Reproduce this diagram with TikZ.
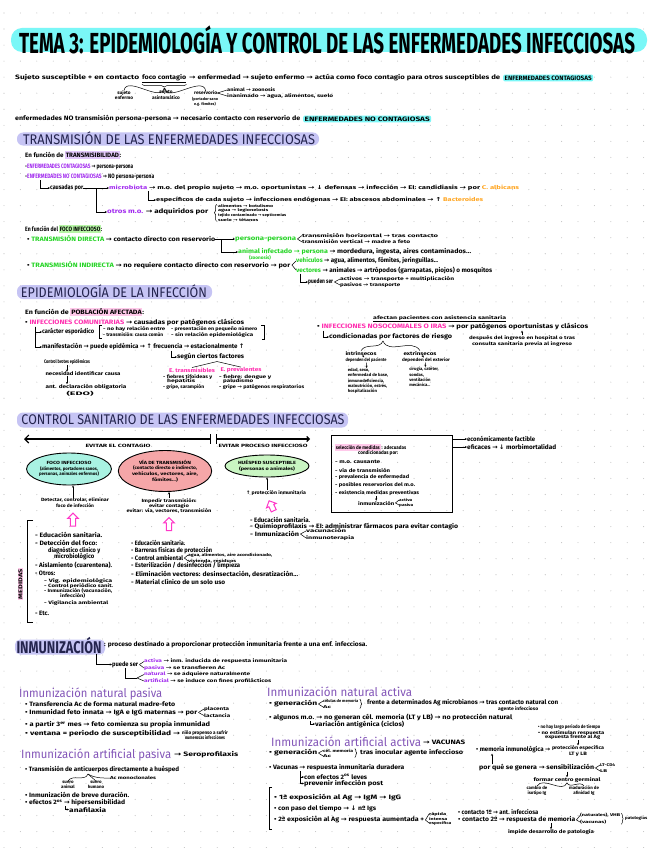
\documentclass[tikz,border=0pt]{standalone}
\usepackage{fontspec}
\setmainfont{Fira Sans}
\newfontfamily\dv{DejaVu Sans}
\usepackage{graphicx}
\usetikzlibrary{arrows.meta,shapes.geometric,shapes.arrows,decorations.pathreplacing,calc}
\definecolor{cyanhl}{HTML}{7AF7F7}
\definecolor{lav}{HTML}{C6C4F4}
\definecolor{navy}{HTML}{24244E}
\definecolor{purp}{HTML}{A22BEF}
\definecolor{pnk}{HTML}{FF2FB0}
\definecolor{grn}{HTML}{24D424}
\definecolor{grnhl}{HTML}{B7F5A6}
\definecolor{pnkhl}{HTML}{FFC9EA}
\definecolor{lavhl}{HTML}{E2C9FA}
\definecolor{orng}{HTML}{FFA51F}
\definecolor{subp}{HTML}{8355B8}
\definecolor{tealf}{HTML}{A9F2E2}
\definecolor{pinkf}{HTML}{F5A6A8}
\definecolor{greenf}{HTML}{C9F5C2}
\definecolor{dotc}{HTML}{C4C4C4}
\definecolor{arrp}{HTML}{FF38C8}
\newsavebox\fwbox
\newcommand\fw[2]{\sbox\fwbox{#2}\pgfmathsetmacro\fwr{#1/\the\wd\fwbox}\scalebox{\fwr}[1]{\usebox\fwbox}}
\newcommand\sz[1]{\fontsize{#1}{#1}\selectfont}
\newcommand\myR{{\dv\char"2192}}
\newcommand\myD{{\dv\char"2193}}
\newcommand\myU{{\dv\char"2191}}
\newcommand\hlt[2]{{\setlength{\fboxsep}{0.7pt}\colorbox{#1}{\vphantom{Áj}#2}}}
\newcommand\TX[6][]{\node[tx,#1] (#2) at (#3,#4) {\fw{#5}{#6}};}
\tikzset{
 tx/.style={anchor=west,inner sep=0pt,font=\sz{6.3}\bfseries},
 sm/.style={font=\sz{4.7}\bfseries},
 ctr/.style={anchor=center},
 sub/.style={font=\sz{12},text=subp},
 hk/.style={-{Stealth[length=2.2pt,width=2pt]},line width=0.5pt},
 ln/.style={line width=0.5pt},
 hlb/.style={fill=#1,rounded corners=2pt,inner xsep=1.5pt,inner ysep=1.2pt},
 ell/.style={ellipse,draw,line width=0.9pt,inner sep=0pt,align=center,font=\fontsize{4.5}{5.6}\selectfont\bfseries},
 parr/.style={single arrow,draw=arrp,line width=1pt,fill=white,minimum height=13pt,single arrow head extend=2.6pt,inner sep=2.2pt},
 hbg/.style={fill=lav,rounded corners=6pt,inner sep=0pt},
}
\begin{document}
\begin{tikzpicture}[x=1pt,y=-1pt]
\useasboundingbox (0,0) rectangle (656,848);
\fill[white] (0,0) rectangle (656,848);
\foreach \i in {0,...,39}{\foreach \j in {0,...,52}{\fill[dotc] (4+\i*16.4,13+\j*16.05) circle (0.55);}}
% ---------- title
\node[fill=cyanhl,rounded corners=11pt,minimum width=636pt,minimum height=24pt,inner sep=0] (tbar) at (329,40) {};
\node[inner sep=0] (title) at (327,40) {\fw{616}{\sz{29}\bfseries TEMA 3: EPIDEMIOLOGÍA Y CONTROL DE LAS ENFERMEDADES INFECCIOSAS}};
% ---------- intro
\TX{l1a}{15}{78}{124}{Sujeto susceptible + en contacto}
\TX{l1b}{142}{78}{44}{foco contagio}
\draw[ln] ([yshift=-1.2]l1b.south west) -- ([yshift=-1.2]l1b.south east);
\TX{l1c}{189}{78}{311}{\myR{} enfermedad \myR{} sujeto enfermo \myR{} actúa como foco contagio para otros susceptibles de}
\TX[hlb=cyanhl]{l1d}{503}{78}{87}{ENFERMEDADES CONTAGIOSAS}
\draw[ln,decorate,decoration={brace,amplitude=2.5pt,mirror}] ([yshift=-3]l1b.south west) -- ([yshift=-3]l1b.south east);
\coordinate (bt) at ([yshift=-6.5]l1b.south);
\node[sm,ctr,inner sep=0,align=center] (s1) at (124,95) {sujeto\\enfermo};
\node[sm,ctr,inner sep=0,align=center] (s2) at (166,95) {sujeto\\asintomático};
\TX[sm]{s3}{194}{93}{23}{reservorio}
\node[inner sep=0,align=center,font=\sz{3.8}\bfseries] (s3b) at (205,102) {(portador sano\\e.g. fómites)};
\TX[sm]{s4a}{227}{90}{48}{animal \myR{} zoonosis}
\TX[sm]{s4b}{227}{96}{106}{inanimado \myR{} agua, alimentos, suelo}
\draw[ln] (bt) to[out=-100,in=80] (s1.north);
\draw[ln] (bt) -- (s2.north);
\draw[ln] (bt) to[out=-80,in=100] (s3.north);
\draw[ln] (s3.east) -- (s4a.west); \draw[ln] (s3.east) -- (s4b.west);
\TX{l2a}{15}{119}{285}{enfermedades NO transmisión persona-persona \myR{} necesario contacto con reservorio de}
\TX[hlb=cyanhl]{l2b}{303}{119}{125}{ENFERMEDADES NO CONTAGIOSAS}
% ---------- heading 1
\node[hbg,minimum width=302pt,minimum height=13pt] (h1bg) at (168,139) {};
\node[inner sep=0] (h1) at (169,138.5) {\fw{292}{\sz{14}\color{navy}TRANSMISIÓN DE LAS ENFERMEDADES INFECCIOSAS}};
% ---------- transmisibilidad
\TX{t1}{25}{155}{96}{En función de \hlt{lavhl}{TRANSMISIBILIDAD}:}
\TX{t2}{25}{167}{108}{-\textcolor{purp}{ENFERMEDADES CONTAGIOSAS} \myR{} persona-persona}
\TX{t3}{25}{177}{129}{-\textcolor{purp}{ENFERMEDADES NO CONTAGIOSAS} \myR{} NO persona-persona}
\TX{t4}{50}{188}{33}{causadas por}
\draw[hk] ([xshift=15]t3.south west) |- (t4.west);
\TX[font=\sz{5.4}\bfseries]{t5}{109}{188}{410}{\textcolor{purp}{microbiota} \myR{} m.o. del propio sujeto \myR{} m.o. oportunistas \myR{} \myD{} defensas \myR{} infección \myR{} EI: candidiasis \myR{} por \textcolor{orng}{C. albicans}}
\TX[font=\sz{5.4}\bfseries]{t6}{156}{200}{327}{específicos de cada sujeto \myR{} infecciones endógenas \myR{} EI: abscesos abdominales \myR{} \myU{} \textcolor{orng}{Bacteroides}}
\TX{t7}{107}{212}{101}{\textcolor{purp}{otros m.o.} \myR{} adquiridos por}
\coordinate (j1) at ([xshift=13]t4.east);
\draw[ln] (t4.east) -- (j1); \draw[hk] (j1) -- (t5.west); \draw[hk] (j1) |- (t7.west);
\draw[hk] ([xshift=39]t5.south west) |- (t6.west);
\TX[font=\sz{3.8}\bfseries]{t8a}{218}{206}{55}{alimentos \myR{} botulismo}
\TX[font=\sz{3.8}\bfseries]{t8b}{218}{210.5}{50}{agua \myR{} legionelosis}
\TX[font=\sz{3.8}\bfseries]{t8c}{218}{215}{68}{tejido contaminado \myR{} septicemias}
\TX[font=\sz{3.8}\bfseries]{t8d}{218}{219.5}{40}{suelo \myR{} tétanos}
\draw[ln,decorate,decoration={brace,amplitude=2pt}] ([xshift=-1.5]t8d.south west) -- ([xshift=-1.5]t8a.north west);
% ---------- foco infeccioso
\TX{f1}{25}{229}{77}{En función del \hlt{grnhl}{FOCO INFECCIOSO}:}
\TX{f2}{27}{239}{188}{• \textcolor{grn}{TRANSMISIÓN DIRECTA} \myR{} contacto directo con reservorio}
\TX{f3}{235}{239}{61}{\textcolor{grn}{persona-persona}}
\TX[sm]{f4a}{302}{235.5}{136}{transmisión horizontal \myR{} tras contacto}
\TX[sm]{f4b}{302}{242}{108}{transmisión vertical \myR{} madre a feto}
\TX{f5}{238}{252}{233}{\textcolor{grn}{animal infectado \myR{} persona} \myR{} mordedura, ingesta, aires contaminados...}
\node[sm,ctr,inner sep=0,text=grn] (f5b) at (260,257.5) {(zoonosis)};
\coordinate (j2) at ([xshift=6]f2.east);
\draw[ln] (f2.east) -- (j2); \draw[hk] (j2) -- (f3.west); \draw[hk] (j2) |- (f5.west);
\draw[ln] ([xshift=1]f3.east) -- (f4a.west); \draw[ln] ([xshift=1]f3.east) -- (f4b.west);
\TX{f6}{27}{265}{263}{• \textcolor{grn}{TRANSMISIÓN INDIRECTA} \myR{} no requiere contacto directo con reservorio \myR{} por}
\TX{f7a}{296}{261}{142}{\textcolor{grn}{vehículos} \myR{} agua, alimentos, fómites, jeringuillas...}
\TX{f7b}{296}{270}{196}{\textcolor{grn}{vectores} \myR{} animales \myR{} artrópodos (garrapatas, piojos) o mosquitos}
\draw[ln] ([xshift=1.5]f6.east) -- (f7a.west); \draw[ln] ([xshift=1.5]f6.east) -- (f7b.west);
\TX{f8}{308}{282}{25}{pueden ser}
\draw[hk] ([xshift=4]f7b.south west) |- (f8.west);
\TX[sm]{f9a}{340}{279}{114}{activos \myR{} transporte + multiplicación}
\TX[sm]{f9b}{340}{285}{60}{pasivos \myR{} transporte}
\draw[ln] ([xshift=1]f8.east) -- (f9a.west); \draw[ln] ([xshift=1]f8.east) -- (f9b.west);
% ---------- heading 2
\node[hbg,minimum width=195pt,minimum height=14pt] (h2bg) at (114.5,292) {};
\node[inner sep=0] (h2) at (114,291.5) {\fw{186}{\sz{14}\color{navy}EPIDEMIOLOGÍA DE LA INFECCIÓN}};
% ---------- poblacion
\TX{p1}{25}{312}{119}{En función de \hlt{pnkhl}{POBLACIÓN AFECTADA}:}
\TX{p2}{25}{323}{219}{• \textcolor{pnk}{INFECCIONES COMUNITARIAS} \myR{} causadas por patógenos clásicos}
\TX{p3}{42}{332}{52}{carácter esporádico}
\TX[sm]{p4a}{103}{329}{62}{- no hay relación entre}
\TX[sm]{p4b}{103}{335}{60}{- transmisión: causa común}
\TX[sm]{p4c}{171}{329}{86}{- presentación en pequeño número}
\TX[sm]{p4d}{171}{335}{82}{- sin relación epidemiológica}
\draw[ln] ([xshift=-1.5,yshift=1.5]p4a.north west) -- ++(-2.5,0) |- ([xshift=-1.5,yshift=-1.5]p4b.south west);
\draw[ln] ([xshift=4,yshift=1.5]p4c.north east) -- ++(2.5,0) |- ([xshift=9,yshift=-1.5]p4d.south east);
\TX{p5}{42}{347}{202}{manifestación \myR{} puede epidémica \myR{} \myU{} frecuencia \myR{} estacionalmente \myU{}}
\draw[hk] ([xshift=10]p2.south west) |- (p3.west);
\draw[hk] ([xshift=10]p2.south west) |- (p5.west);
\TX{p6}{177}{357}{67}{según ciertos factores}
\coordinate (p6h) at ([xshift=129]p5.south west);
\draw[hk] (p6h) |- (p6.west);
\node[inner sep=0,font=\sz{5.5}\bfseries,text=pnk] (p7a) at (192,370) {\fw{46}{E. transmisibles}};
\node[inner sep=0,font=\sz{5.5}\bfseries,text=pnk] (p7b) at (241,370) {\fw{41}{E. prevalentes}};
\coordinate (p6b) at ([xshift=40,yshift=-1]p6.south west);
\draw[ln] (p6b) -- (p7a.north); \draw[ln] (p6b) -- (p7b.north);
\TX[sm]{p8a}{163}{377}{49}{- fiebres tifoideas y}
\TX[sm]{p8b}{167}{381.5}{28}{hepatitis}
\TX[sm]{p8c}{163}{387.5}{41}{- gripe, sarampión}
\TX[sm]{p9a}{219}{377}{52}{- fiebre: dengue y}
\TX[sm]{p9b}{223}{381.5}{30}{paludismo}
\TX[sm]{p9c}{219}{387.5}{85}{- gripe \myR{} patógenos respiratorios}
\node[inner sep=0,font=\sz{5}\bfseries] (q1) at (67,362) {\fw{46}{Control brotes epidémicos}};
\node[inner sep=0,font=\sz{5}\bfseries] (q2) at (83,374) {\fw{75}{necesidad identificar causa}};
\node[inner sep=0,font=\sz{5}\bfseries] (q3) at (86,387) {\fw{81}{ant. declaración obligatoria}};
\node[inner sep=0,font=\sz{5}\bfseries] (q4) at (80,393.5) {\fw{27}{(EDO)}};
\draw[hk] (q1.south) -- (q1.south |- q2.north);
\draw[hk] (q1.south |- q2.south) -- (q1.south |- q3.north);
% ---------- nosocomiales
\TX[sm]{n0}{373}{318}{133}{afectan pacientes con asistencia sanitaria}
\draw[ln] ([yshift=-0.8]n0.south west) -- ([yshift=-0.8]n0.south east);
\TX{n1}{317}{327}{271}{• \textcolor{pnk}{INFECCIONES NOSOCOMIALES O IRAS} \myR{} por patógenos oportunistas y clásicos}
\TX{n2}{329}{337}{123}{condicionadas por factores de riesgo}
\draw[hk] ([xshift=6]n1.south west) |- (n2.west);
\node[inner sep=0,align=center,font=\fontsize{4.6}{5.8}\selectfont\bfseries] (n3) at (522,341) {\fw{106}{después del ingreso en hospital o tras}\\\fw{100}{consulta sanitaria previa al ingreso}};
\draw[hk] (n3.north) -- (n3.north |- n1.south);
\node[inner sep=0,font=\sz{5}\bfseries] (n4a) at (361,353) {\fw{31}{intrínsecos}};
\node[inner sep=0,font=\sz{5}\bfseries] (n4b) at (420,353) {\fw{33}{extrínsecos}};
\coordinate (n2b) at ([xshift=54,yshift=-0.5]n2.south west);
\draw[ln] (n2b) to[out=-110,in=60] (n4a.north); \draw[ln] (n2b) to[out=-70,in=120] (n4b.north);
\node[inner sep=0,font=\sz{4.5}\bfseries] (n5a) at (366,360) {\fw{41}{dependen del paciente}};
\node[inner sep=0,font=\sz{4.5}\bfseries] (n5b) at (426,360) {\fw{48}{dependen del exterior}};
\node[anchor=north,inner sep=0,align=left,font=\fontsize{4.2}{5.4}\selectfont\bfseries] (n6a) at (368,368) {edad, sexo,\\enfermedad de base,\\inmunodeficiencia,\\malnutrición, estrés,\\hospitalización};
\node[anchor=north,inner sep=0,align=left,font=\fontsize{4.2}{5.4}\selectfont\bfseries] (n6b) at (424,367) {cirugía, catéter,\\sondas,\\ventilación\\mecánica...};
\draw[hk] (n4a) -- (n5a); \draw[hk] (n4b) -- (n5b);
\draw[hk] (n5a) -- (n6a); \draw[hk] (n5b) -- (n6b);
% ---------- heading 3
\node[hbg,minimum width=331pt,minimum height=15pt] (h3bg) at (182.5,420) {};
\node[inner sep=0] (h3) at (183,419.5) {\fw{323}{\sz{14}\color{navy}CONTROL SANITARIO DE LAS ENFERMEDADES INFECCIOSAS}};
% ---------- timeline
\coordinate (tA) at (24,439); \coordinate (tB) at (210.5,439);
\coordinate (tC) at (216.5,439); \coordinate (tD) at (310,439);
\draw[line width=1.1pt,-{Straight Barb[length=4pt,width=8pt]}] (tB) -- (tA);
\draw[line width=1.1pt,-{Straight Barb[length=2.5pt,width=5pt]}] (tC) -- (tD);
\draw[line width=0.9pt] ([yshift=5]tB) -- ([yshift=-5]tB);
\draw[line width=0.9pt] ([yshift=5]tC) -- ([yshift=-5]tC);
\node[inner sep=0,font=\sz{4.6}\bfseries] (ev1) at (118,446) {\fw{65}{EVITAR EL CONTAGIO}};
\node[inner sep=0,font=\sz{4.6}\bfseries] (ev2) at (263,446) {\fw{89}{EVITAR PROCESO INFECCIOSO}};
\node[ell,fill=tealf,minimum width=80pt,minimum height=32pt] (e1) at (69,469) {\fw{45}{FOCO INFECCIOSO}\\\fw{58}{(alimentos, portadores sanos,}\\\fw{60}{personas, animales enfermos)}};
\node[ell,fill=pinkf,minimum width=88pt,minimum height=41pt] (e2) at (165,471) {\fw{52}{VÍA DE TRANSMISIÓN}\\\fw{64}{(contacto directo o indirecto,}\\\fw{66}{vehículos, vectores, aire,}\\\fw{26}{fómites...)}};
\node[ell,fill=greenf,minimum width=84pt,minimum height=22pt] (e3) at (267,466) {\fw{58}{HUÉSPED SUSCEPTIBLE}\\\fw{56}{(personas o animales)}};
\node[inner sep=0,align=center,font=\fontsize{4.6}{5.6}\selectfont\bfseries] (d1) at (75,502.5) {\fw{68}{Detectar, controlar, eliminar}\\\fw{38}{foco de infección}};
\draw[hk] (d1.north -| e1.south) ++(4,0) -- ([xshift=4]e1.south);
\node[inner sep=0,align=center,font=\fontsize{4.6}{5.2}\selectfont\bfseries] (d2) at (169,506) {\fw{55}{Impedir transmisión:}\\\fw{40}{evitar contagio}\\\fw{85}{evitar: vía, vectores, transmisión}};
\draw[hk] ([xshift=4]d2.north -| e2.south) -- ([xshift=4]e2.south);
\node[inner sep=0,font=\sz{4.8}\bfseries] (d3) at (276,493) {\fw{60}{\myU{} protección inmunitaria}};
\draw[hk] (d3.north -| e3.south) -- (e3.south);
\node[parr,rotate=90] (pa1) at (73,521) {};
\node[parr,rotate=90] (pa2) at (169,525.5) {};
\node[parr,rotate=115,minimum height=11pt] (pa3) at (272,507) {};
% ---------- box
\node[draw,line width=1.1pt,minimum width=121pt,minimum height=77pt,anchor=north west,inner sep=0] (bx) at (331,435) {};
\TX[font=\sz{5}\bfseries]{b1}{335}{447.5}{71}{\hlt{pnkhl}{selección de medidas} : adecuadas}
\TX[font=\sz{5}\bfseries]{b2}{358}{453.5}{40}{condicionadas por:}
\TX[font=\sz{5}\bfseries]{b3}{335}{462}{45}{- m.o. causante}
\TX[font=\sz{5}\bfseries]{b4}{335}{470}{55}{- vía de transmisión}
\TX[font=\sz{5}\bfseries]{b5}{335}{477.5}{74}{- prevalencia de enfermedad}
\TX[font=\sz{5}\bfseries]{b6}{335}{485.5}{80}{- posibles reservorios del m.o.}
\TX[font=\sz{5}\bfseries]{b7}{335}{493}{84}{- existencia medidas preventivas}
\TX[font=\sz{5}\bfseries]{b8}{358}{503}{36}{inmunización}
\draw[hk] (b8.north |- b7.south) -- (b8.north);
\TX[font=\sz{3.8}\bfseries]{b9a}{399}{500}{13}{activa}
\TX[font=\sz{3.8}\bfseries]{b9b}{399}{505}{14}{pasiva}
\draw[ln] ([xshift=1]b8.east) -- (b9a.west); \draw[ln] ([xshift=1]b8.east) -- (b9b.west);
\TX{o1}{467}{439}{68}{económicamente factible}
\TX{o2}{467}{447}{89}{eficaces \myR{} \myD{} morbimortalidad}
\draw[hk] (bx.east |- o1.west) -- (o1.west);
\draw[hk] (bx.east |- o2.west) -- (o2.west);
% ---------- measures lists
\TX{r1}{250}{520}{60}{- Educación sanitaria.}
\TX{r2}{250}{526.5}{208}{- Quimioprofilaxis \myR{} EI: administrar fármacos para evitar contagio}
\TX{r3}{250}{534}{49}{- Inmunización}
\TX[sm]{r4a}{306}{531}{40}{vacunación}
\TX[sm]{r4b}{306}{538}{48}{inmunoterapia}
\draw[ln] ([xshift=1]r3.east) -- (r4a.west); \draw[ln] ([xshift=1]r3.east) -- (r4b.west);
\TX{L1}{35}{535}{67}{- Educación sanitaria.}
\TX{L2}{35}{543}{62}{- Detección del foco:}
\TX{L3}{48}{551}{52}{diagnóstico clínico y}
\TX{L4}{54}{557}{40}{microbiológico}
\TX{L5}{35}{565}{77}{- Aislamiento (cuarentena).}
\TX{L6}{35}{573}{20}{- Otros:}
\TX[sm]{L7}{44}{581}{68}{- Vig. epidemiológica}
\TX[sm]{L8}{44}{586}{69}{- Control periódico sanit.}
\TX[sm]{L9}{44}{591}{68}{- Inmunización (vacunación,}
\TX[sm]{L10}{60}{596}{25}{infección)}
\TX[sm]{L11}{44}{603}{64}{- Vigilancia ambiental}
\TX{L12}{35}{613}{14}{- Etc.}
\coordinate (brT) at (33,520); \coordinate (brB) at (33,622);
\draw[line width=0.9pt] (brT) -- ++(-6,0) |- (brB);
\node[rotate=90,fill=pnkhl,inner sep=1pt,font=\sz{5.5}\bfseries] (med) at (20.5,584) {\fw{30}{MEDIDAS}};
\TX{M1}{131}{543}{54}{- Educación sanitaria.}
\TX{M2}{131}{551}{81}{- Barreras físicas de protección}
\TX{M3}{131}{558}{52}{- Control ambiental}
\TX[font=\sz{4}\bfseries]{M3a}{188}{555}{84}{agua, alimentos, aire acondicionado,}
\TX[font=\sz{4}\bfseries]{M3b}{188}{561}{48}{vivienda, residuos}
\draw[ln] ([xshift=1]M3.east) -- (M3a.west); \draw[ln] ([xshift=1]M3.east) -- (M3b.west);
\TX{M4}{131}{566}{109}{- Esterilización / desinfección / limpieza}
\TX{M5}{131}{574}{167}{- Eliminación vectores: desinsectación, desratización...}
\TX{M6}{131}{582}{94}{- Material clínico de un solo uso}
% ---------- inmunizacion
\node[hbg,rounded corners=5pt,minimum width=90pt,minimum height=15pt] (i0bg) at (60,647) {};
\node[inner sep=0] (i0) at (59,645.5) {\fw{85}{\sz{17}\bfseries\color{navy}INMUNIZACIÓN}};
\TX{i1}{104}{644.5}{263}{: proceso destinado a proporcionar protección inmunitaria frente a una enf. infecciosa.}
\TX{i2}{112}{664.5}{26}{puede ser}
\draw[hk] ([xshift=-5]i0.south east) |- (i2.west);
\TX[sm]{i3a}{144}{661.5}{143}{\textcolor{purp}{activa} \myR{} inm. inducida de respuesta inmunitaria}
\TX[sm]{i3b}{144}{668}{81}{\textcolor{purp}{pasiva} \myR{} se transfieren Ac}
\draw[ln] ([xshift=1]i2.east) -- (i3a.west); \draw[ln] ([xshift=1]i2.east) -- (i3b.west);
\TX[sm]{i4a}{144}{674.5}{106}{\textcolor{purp}{natural} \myR{} se adquiere naturalmente}
\TX[sm]{i4b}{144}{681}{127}{\textcolor{purp}{artificial} \myR{} se induce con fines profilácticos}
\coordinate (i4j) at (137,678);
\draw[ln] ([xshift=13]i2.south west) |- (i4j);
\draw[ln] (i4j) -- (i4a.west); \draw[ln] (i4j) -- (i4b.west);
\TX[sub]{s1h}{19}{694}{143}{Inmunización natural pasiva}
\TX[sub]{s2h}{267}{692}{145}{Inmunización natural activa}
\TX[sub]{s3h}{21}{755}{150}{Inmunización artificial pasiva}
\TX{s3b}{174}{755}{64}{\myR{} Seroprofilaxis}
\TX[sub]{s4h}{271}{742}{150}{Inmunización artificial activa}
\TX{s4b}{423}{742.5}{42}{\myR{} VACUNAS}
% natural pasiva
\TX{a1}{25}{704}{150}{• Transferencia Ac de forma natural madre-feto}
\TX{a2}{25}{712.5}{172}{• Inmunidad feto innata \myR{} IgA e IgG maternas \myR{} por}
\TX[sm]{a2a}{204}{709}{25}{placenta}
\TX[sm]{a2b}{204}{715.5}{26}{lactancia}
\draw[ln] ([xshift=1]a2.east) -- (a2a.west); \draw[ln] ([xshift=1]a2.east) -- (a2b.west);
\TX{a3}{25}{725}{185}{• a partir 3\textsuperscript{er} mes \myR{} feto comienza su propia inmunidad}
\TX{a4}{25}{734}{155}{• ventana = periodo de susceptibilidad \myR{}}
\node[inner sep=0,align=center,font=\fontsize{4.8}{5.8}\selectfont\bfseries] (a4b) at (205,735) {\fw{46}{niño propenso a sufrir}\\\fw{40}{numerosas infecciones}};
% artificial pasiva
\TX{c1}{25}{770}{154}{• Transmisión de anticuerpos directamente a huésped}
\coordinate (c1j) at ([xshift=63,yshift=-0.5]c1.south west);
\node[inner sep=0,align=center,font=\fontsize{4.4}{5}\selectfont\bfseries] (c2a) at (68,785) {suero\\animal};
\node[inner sep=0,align=center,font=\fontsize{4.4}{5}\selectfont\bfseries] (c2b) at (96,785) {suero\\humano};
\node[inner sep=0,font=\sz{4.4}\bfseries] (c2c) at (133,778) {\fw{46}{Ac monoclonales}};
\draw[ln] (c1j) to[out=-110,in=60] (c2a.north); \draw[ln] (c1j) -- (c2b.north); \draw[ln] (c1j) to[out=-30,in=180] (c2c.west);
\TX{c3}{25}{795}{104}{• Inmunización de breve duración.}
\TX{c4}{25}{803}{100}{• efectos 2\textsuperscript{os} \myR{} hipersensibilidad}
\TX{c5}{69}{809.5}{37}{anafilaxia}
\draw[hk] ([xshift=40]c4.south west) |- (c5.west);
% natural activa
\TX{g1}{269}{704}{48}{• generación}
\TX[font=\sz{4}\bfseries]{g1a}{323}{701}{35}{células de memoria}
\TX[font=\sz{4}\bfseries]{g1b}{323}{707}{8}{Ac}
\draw[ln] ([xshift=1]g1.east) -- (g1a.west); \draw[ln] ([xshift=1]g1.east) -- (g1b.west);
\draw[ln,decorate,decoration={brace,amplitude=1.8pt}] ([xshift=1.5]g1a.north east) -- ([xshift=1.5]g1a.north east |- g1b.south);
\TX{g2}{367}{703}{191}{frente a determinados Ag microbianos \myR{} tras contacto natural con}
\TX[sm]{g2b}{498}{709}{40}{agente infeccioso}
\TX{g3}{269}{717.5}{243}{• algunos m.o. \myR{} no generan cél. memoria (LT y LB) \myR{} no protección natural}
\TX{g4}{315}{724}{89}{variación antigénica (ciclos)}
\draw[hk] ([xshift=41]g3.south west) |- (g4.west);
% artificial activa
\TX{v1}{269}{753}{48}{• generación}
\TX[font=\sz{4}\bfseries]{v1a}{323}{750.5}{30}{cél. memoria}
\TX[font=\sz{4}\bfseries]{v1b}{323}{756}{8}{Ac}
\draw[ln] ([xshift=1]v1.east) -- (v1a.west); \draw[ln] ([xshift=1]v1.east) -- (v1b.west);
\draw[ln,decorate,decoration={brace,amplitude=1.8pt}] ([xshift=1.5]v1a.north east) -- ([xshift=1.5]v1a.north east |- v1b.south);
\TX{v2}{360}{753}{103}{tras inocular agente infeccioso}
\TX{v3}{269}{768}{135}{• Vacunas \myR{} respuesta inmunitaria duradera}
\TX{v4}{304}{777}{63}{con efectos 2\textsuperscript{os} leves}
\TX{v5}{304}{783.5}{79}{prevenir infección post}
\draw[hk] ([xshift=31]v3.south west) |- (v4.west);
\draw[hk] ([xshift=31]v3.south west) |- (v5.west);
\TX{w1}{274}{798}{127}{• 1ª exposición al Ag \myR{} IgM \myR{} IgG}
\TX{w2}{274}{809}{102}{• con paso del tiempo \myR{} \myD{} nº Igs}
\TX{w3}{274}{820}{150}{• 2ª exposición al Ag \myR{} respuesta aumentada +}
\TX[font=\sz{3.8}\bfseries]{w3a}{429}{814}{17}{rápida}
\TX[font=\sz{3.8}\bfseries]{w3b}{429}{818.5}{18}{intensa}
\TX[font=\sz{3.8}\bfseries]{w3c}{429}{823}{22}{específica}
\draw[ln] ([xshift=1]w3.east) -- (w3a.west); \draw[ln] ([xshift=1]w3.east) -- (w3c.west);
\draw[ln] ([xshift=-2,yshift=7]w1.north west) -- ++(-2.5,0) |- ([xshift=-2,yshift=-6]w3.south west);
% far right
\TX[sm]{x1}{538}{727}{62}{• no hay largo periodo de tiempo}
\TX[sm]{x2}{538}{733}{66}{• no estimulan respuesta}
\TX[sm]{x2b}{545}{737.5}{55}{expuesta frente al Ag}
\node[inner sep=0,align=center,font=\fontsize{4.8}{5.8}\selectfont\bfseries] (x3) at (578,751) {\fw{52}{protección específica}\\\fw{18}{LT y LB}};
\draw[hk] (x3.north |- x2b.south) -- (x3.north);
\TX{x4}{476}{750}{74}{• memoria inmunológica \myR{}}
\TX{x5}{479}{768}{115}{por qué se genera \myR{} sensibilización}
\draw[hk] ([xshift=13]x5.north west) -- ([xshift=13]x5.north west |- x4.south);
\TX[font=\sz{4}\bfseries]{x5a}{600}{765}{15}{LT-CD4}
\TX[font=\sz{4}\bfseries]{x5b}{600}{771}{7}{LB}
\draw[ln] ([xshift=1]x5.east) -- (x5a.west); \draw[ln] ([xshift=1]x5.east) -- (x5b.west);
\node[inner sep=0,font=\sz{5}\bfseries] (x6) at (567,780) {\fw{67}{formar centro germinal}};
\draw[hk] (x6.north |- x5.south) -- (x6.north);
\node[inner sep=0,align=center,font=\fontsize{4.4}{5}\selectfont\bfseries] (x7a) at (537,791) {cambio de\\isotipo Ig};
\node[inner sep=0,align=center,font=\fontsize{4.4}{5}\selectfont\bfseries] (x7b) at (584,791) {maduración de\\afinidad Ig};
\draw[ln] (x6.south) to[out=-110,in=60] (x7a.north); \draw[ln] (x6.south) to[out=-70,in=120] (x7b.north);
\TX{y1}{458}{812}{80}{• contacto 1º \myR{} ant. infecciosa}
\TX{y2}{458}{820}{117}{• contacto 2º \myR{} respuesta de memoria}
\TX[font=\sz{4}\bfseries]{y2a}{580}{815.5}{40}{(naturales), VHB}
\TX[font=\sz{4}\bfseries]{y2b}{580}{822}{26}{(vacunas)}
\draw[ln] ([xshift=1]y2.east) -- (y2a.west); \draw[ln] ([xshift=1]y2.east) -- (y2b.west);
\draw[ln,decorate,decoration={brace,amplitude=1.8pt}] ([xshift=1]y2a.north east) -- ([xshift=1]y2a.north east |- y2b.south);
\TX[font=\sz{4}\bfseries]{y2c}{625}{818.5}{22}{patologías}
\node[inner sep=0,font=\sz{5}\bfseries] (y3) at (551,832) {\fw{86}{impide desarrollo de patología}};
\draw[hk] (y3.north |- y2.south) -- (y3.north);
\end{tikzpicture}
\end{document}
